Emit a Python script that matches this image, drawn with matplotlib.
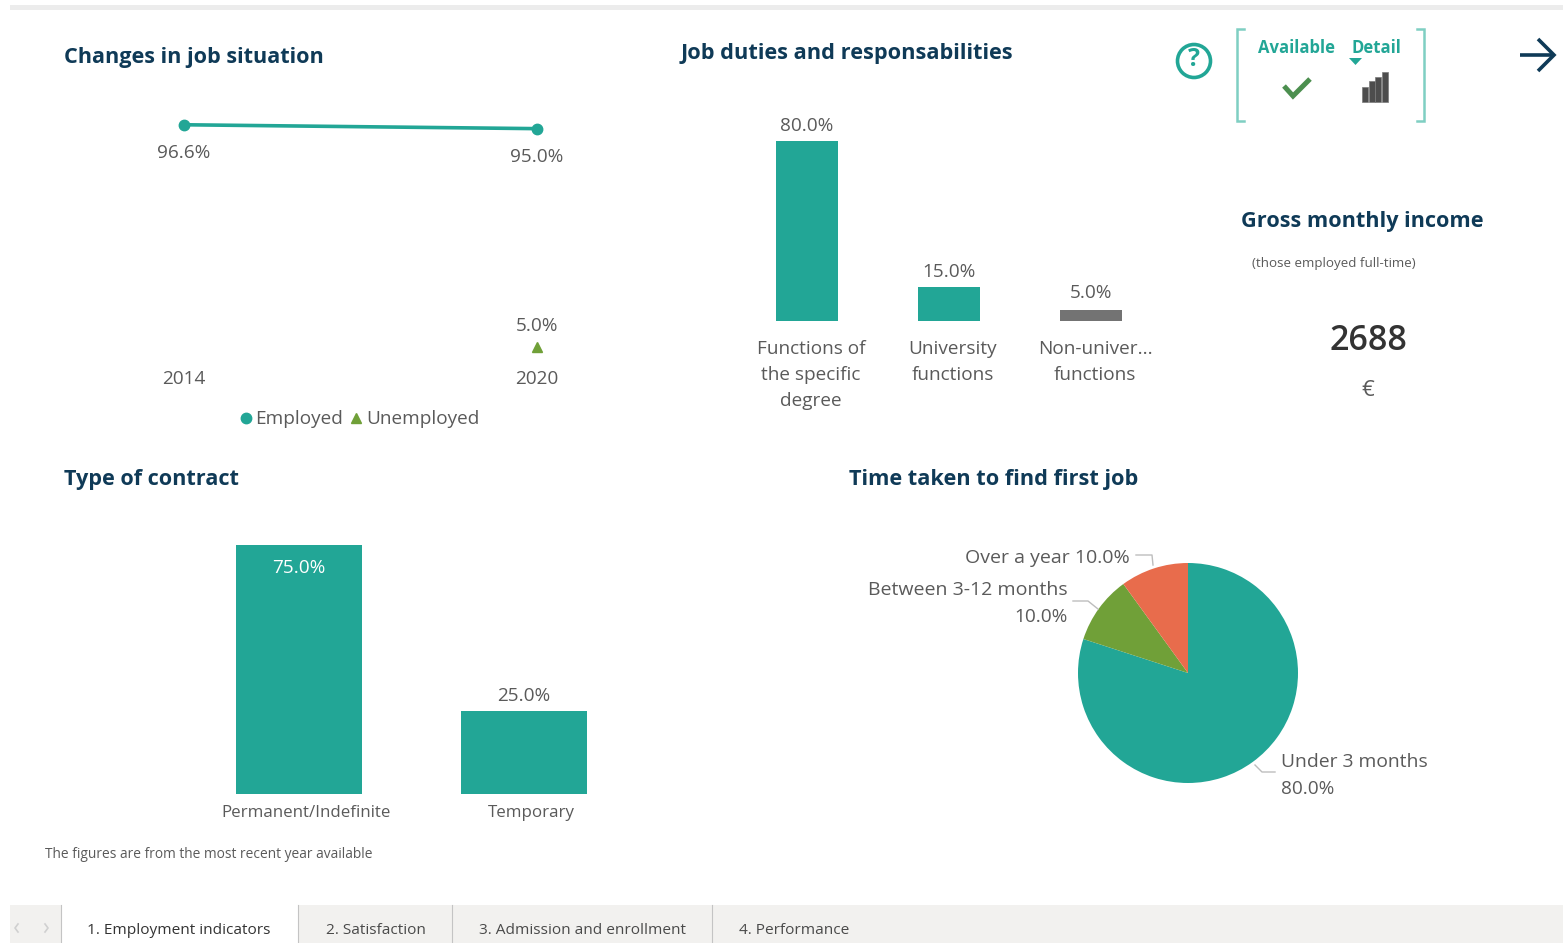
import matplotlib
matplotlib.use("Agg")
import matplotlib.pyplot as plt
from matplotlib.patches import Rectangle, Circle, Polygon

plt.rcParams['font.family'] = ['Open Sans', 'DejaVu Sans']

# ---- data ----
years = ['2014', '2020']
employed = [96.6, 95.0]
unemployed = [None, 5.0]
duty_labels = ['Functions of\nthe specific\ndegree', 'University\nfunctions', 'Non-univer...\nfunctions']
duty_values = [80.0, 15.0, 5.0]
contract_labels = ['Permanent/Indefinite', 'Temporary']
contract_values = [75.0, 25.0]
time_labels = ['Under 3 months\n80.0%', 'Between 3-12 months\n10.0%', 'Over a year 10.0%']
time_values = [80.0, 10.0, 10.0]
tab_labels = ['1. Employment indicators', '2. Satisfaction', '3. Admission and enrollment', '4. Performance']
income = '2688'

TEAL = '#22a696'
GREEN = '#70a038'
ORANGE = '#e86c4c'
GRAY = '#737373'
NAVY = '#0f3a57'
TXT = '#5a5a5a'
W, H = 1563, 943
BODY = 13.7
TITLE = 15.6

fig = plt.figure(figsize=(W / 100, H / 100), dpi=100, facecolor='white')


def px_axes(x0, y0, x1, y1, **kw):
    ax = fig.add_axes([x0 / W, 1 - y1 / H, (x1 - x0) / W, (y1 - y0) / H], **kw)
    ax.patch.set_alpha(0)
    for s in ax.spines.values():
        s.set_visible(False)
    ax.set_xticks([])
    ax.set_yticks([])
    return ax


bg = px_axes(0, 0, W, H)
bg.set_xlim(0, W)
bg.set_ylim(H, 0)
bg.set_zorder(5)


def t(x, y, s, size=BODY, color=TXT, ha='left', va='center', weight='normal', **kw):
    return bg.text(x, y + 2, s, fontsize=size, color=color, ha=ha, va=va, fontweight=weight, **kw)


# top rule
bg.add_patch(Rectangle((10, 5), W - 10, 5, color='#ececec', lw=0))

# titles
t(64, 56, 'Changes in job situation', TITLE, NAVY, weight='bold')
t(681, 51, 'Job duties and responsabilities', 15.7, NAVY, weight='bold')
t(64, 478, 'Type of contract', TITLE, NAVY, weight='bold')
t(849, 477, 'Time taken to find first job', 15.7, NAVY, weight='bold')
t(1362, 219, 'Gross monthly income', TITLE, NAVY, ha='center', weight='bold')
t(1334, 261, '(those employed full-time)', 9.6, TXT, ha='center')
t(1368, 339, income, 24.5, '#333333', ha='center', weight='semibold')
t(1368, 389, '€', 16, TXT, ha='center')
t(45, 853, 'The figures are from the most recent year available', 9.9, TXT)

# line chart
ax1 = px_axes(7.5, 116.5, 713.5, 359.5)
ax1.set_xlim(-0.5, 1.5)
ax1.set_ylim(0, 100)
xs = list(range(len(years)))
ax1.plot(xs, employed, color=TEAL, lw=2.6, marker='o', ms=7.5, clip_on=False)
ax1.plot(xs[1], unemployed[1], color=GREEN, marker='^', ms=6.5, ls='none', clip_on=False)
for x, v, dy in zip(xs, employed, (-28.5, -28.5)):
    ax1.annotate(f'{v:.1f}%', (x, v), xytext=(0, dy), textcoords='offset pixels',
                 ha='center', va='center', fontsize=BODY, color=TXT)
ax1.annotate(f'{unemployed[1]:.1f}%', (1, unemployed[1]), xytext=(0, 21.5), textcoords='offset pixels',
             ha='center', va='center', fontsize=BODY, color=TXT)
for x, lab in zip(xs, years):
    ax1.annotate(lab, (x, 0), xytext=(0, -19.5), textcoords='offset pixels',
                 ha='center', va='center', fontsize=BODY, color=TXT)
bg.plot([246], [418], 'o', color=TEAL, ms=7.5)
t(255, 417, 'Employed')
bg.plot([356], [418], '^', color=GREEN, ms=7)
t(366, 417, 'Unemployed')

# duties bars
ax2 = px_axes(736, 96, 1162, 321)
ax2.set_xlim(-0.5, 2.5)
ax2.set_ylim(0, 100)
ax2.bar(range(3), duty_values, width=62 / 142, color=[TEAL, TEAL, GRAY])
for i, (v, lab) in enumerate(zip(duty_values, duty_labels)):
    ax2.annotate(f'{v:.1f}%', (i, v), xytext=(0, 15 if i < 2 else 17),
                 textcoords='offset pixels', ha='center', va='center', fontsize=BODY, color=TXT)
    ax2.annotate(lab, (i, 0), xytext=(4, -19), textcoords='offset pixels', ha='center', va='top',
                 fontsize=BODY, color=TXT, linespacing=1.57)

# contract bars
ax3 = px_axes(186.5, 545, 636.5, 794)
ax3.set_xlim(-0.5, 1.5)
ax3.set_ylim(0, 75)
ax3.bar(range(2), contract_values, width=126 / 225, color=TEAL)
ax3.annotate(f'{contract_values[0]:.1f}%', (0, contract_values[0]), xytext=(0, -23),
             textcoords='offset pixels', ha='center', va='center', fontsize=BODY, color='white')
ax3.annotate(f'{contract_values[1]:.1f}%', (1, contract_values[1]), xytext=(0, 15),
             textcoords='offset pixels', ha='center', va='center', fontsize=BODY, color=TXT)
for i, lab in enumerate(contract_labels):
    ax3.annotate(lab, (i, 0), xytext=(7, -19), textcoords='offset pixels', ha='center', va='center',
                 fontsize=12.2, color=TXT)

# pie
ax4 = px_axes(1078, 563, 1298, 783)
ax4.pie(time_values, colors=[TEAL, GREEN, ORANGE], startangle=90, counterclock=False, radius=1.0)
ax4.set_xlim(-1, 1)
ax4.set_ylim(-1, 1)
t(1281, 760, 'Under 3 months', 13.9)
t(1281, 787, '80.0%')
t(1068, 588, 'Between 3-12 months', 14, ha='right')
t(1068, 615, '10.0%', ha='right')
t(1130, 556, 'Over a year 10.0%', 14, ha='right')
for pts in ([(1255, 765), (1262, 772), (1275, 772)],
            ([1073, 601], [1088, 601], [1098, 609]),
            ([1136, 555], [1152, 555], [1153, 565])):
    bg.plot(*zip(*pts), color='#bdbdbd', lw=1)

# help icon
bg.add_patch(Circle((1194, 61), 16.5, fill=False, ec=TEAL, lw=2.6))
t(1194, 58, '?', 18, TEAL, ha='center', weight='bold')

# bracket box
for x, sgn in ((1237, 1), (1424, -1)):
    bg.plot([x + sgn * 7, x, x, x + sgn * 7], [29, 29, 121, 121], color='#7fcfc2', lw=1.8,
            solid_joinstyle='miter')
t(1297, 46, 'Available', 12, TEAL, ha='center', weight='bold')
t(1376, 46, 'Detail', 12, TEAL, ha='center', weight='bold')
bg.add_patch(Polygon([(1349, 58), (1362, 58), (1355.5, 65)], color=TEAL, lw=0))
bg.plot([1284, 1293, 1310], [86, 96, 79], color='#4c8f4f', lw=3.6, solid_capstyle='butt',
        solid_joinstyle='miter')
for x0, top in zip((1362, 1368.5, 1375, 1381.5), (87, 81, 77, 72)):
    bg.add_patch(Rectangle((x0, top), 6, 102 - top, fc='#4d4d4d', ec='#7a7a7a', lw=0.5))

# arrow
bg.plot([1520, 1553], [55, 55], color=NAVY, lw=2.6, solid_capstyle='butt')
bg.plot([1538, 1554, 1538], [39, 55, 71], color=NAVY, lw=2.6, solid_joinstyle='miter',
        solid_capstyle='butt')

# tabs
bg.add_patch(Rectangle((10, 905), W - 10, 38, color='#f2f1ef', lw=0))
bg.add_patch(Rectangle((61, 905), 237, 38, color='white', lw=0))
for x in (61, 298, 452, 712):
    bg.plot([x, x], [905, 943], color='#c4c4c4', lw=0.8)
bg.plot([18, 15, 18], [924, 928, 932], color='#d0d0d0', lw=1.2)
bg.plot([45, 48, 45], [924, 928, 932], color='#d0d0d0', lw=1.2)
for x, lab, w in zip((87, 326, 479, 739), tab_labels, ('medium', 'normal', 'normal', 'normal')):
    t(x, 928, lab, 11.1, '#333333' if w == 'medium' else '#4a4a4a', weight=w)

fig.savefig('out.png', dpi=100)
